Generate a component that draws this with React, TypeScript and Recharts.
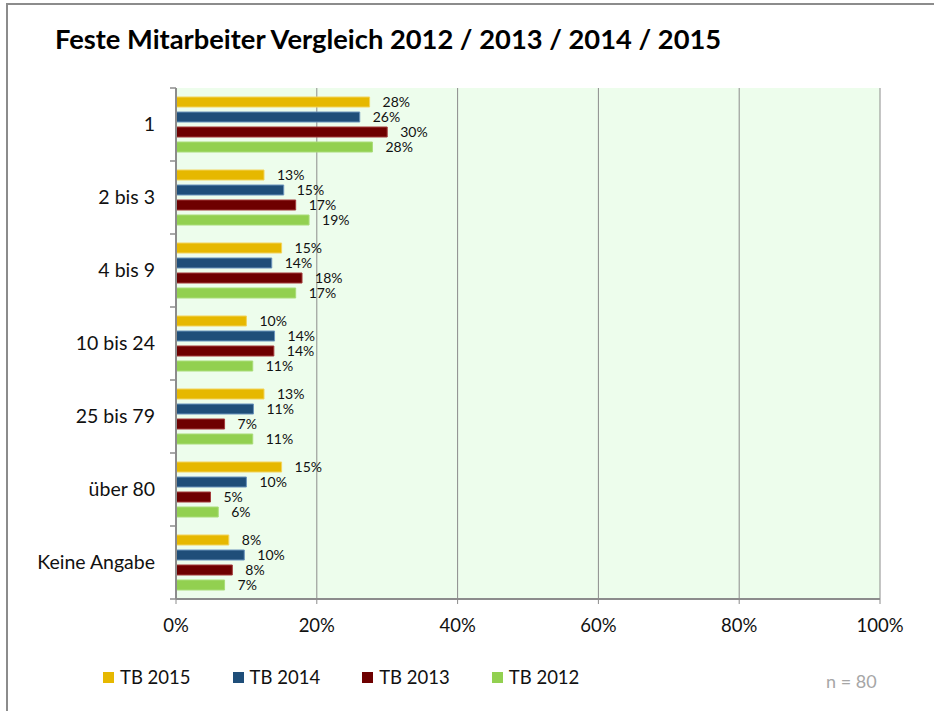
import { BarChart, Bar, XAxis, YAxis, CartesianGrid, Legend, LabelList } from 'recharts';

const categories = ['1', '2 bis 3', '4 bis 9', '10 bis 24', '25 bis 79', 'über 80', 'Keine Angabe'];

// Anteile in Prozent (Labels sind gerundet)
const tb2015 = [27.5, 12.5, 15, 10, 12.5, 15, 7.5];
const tb2014 = [26.1, 15.3, 13.6, 14.0, 11.0, 10.0, 9.7];
const tb2013 = [30.0, 17.0, 17.9, 13.9, 6.9, 4.9, 8.0];
const tb2012 = [27.9, 18.9, 17.0, 10.9, 10.9, 6.0, 6.9];

const xTicks = [0, 20, 40, 60, 80, 100];

const series = [
  { key: 'tb2015', label: 'TB 2015', values: tb2015 },
  { key: 'tb2014', label: 'TB 2014', values: tb2014 },
  { key: 'tb2013', label: 'TB 2013', values: tb2013 },
  { key: 'tb2012', label: 'TB 2012', values: tb2012 },
];

const colors: Record<string, { fill: string; edge: string }> = {
  tb2015: { fill: '#E6B800', edge: '#F3D35C' },
  tb2014: { fill: '#1F4E79', edge: '#6A93BC' },
  tb2013: { fill: '#6E0000', edge: '#A33A3A' },
  tb2012: { fill: '#92D050', edge: '#A9DC78' },
};

const rows = categories.map((cat, i) => {
  const row: Record<string, string | number> = { cat };
  series.forEach((s) => {
    row[s.key] = s.values[i];
  });
  return row;
});

const GRAY = '#8c8c8c';

// Kategorie-Label plus Teilstrich an der Bandgrenze (Excel-Stil)
function CategoryTick(props: any) {
  const { x, y, payload, index, visibleTicksCount } = props;
  const half = payload?.offset ?? 0;
  const axisX = x + 21;
  return (
    <g>
      <text x={x} y={y} dy="0.355em" textAnchor="end" fill="#111" fontSize={19.5}>
        {payload.value}
      </text>
      <line x1={axisX - 6} x2={axisX} y1={y - half} y2={y - half} stroke={GRAY} strokeWidth={1.5} />
      {index === visibleTicksCount - 1 && (
        <line x1={axisX - 6} x2={axisX} y1={y + half} y2={y + half} stroke={GRAY} strokeWidth={1.5} />
      )}
    </g>
  );
}

// Legende in der Reihenfolge der Serien (Recharts dreht sie im vertikalen Layout um)
function LegendContent() {
  return (
    <div style={{ display: 'flex', alignItems: 'center' }}>
      {series.map((s) => (
        <div key={s.key} style={{ width: 129.6, display: 'flex', alignItems: 'center', height: 22 }}>
          <span
            style={{
              width: 11,
              height: 11,
              background: colors[s.key].fill,
              marginRight: 6,
              display: 'inline-block',
            }}
          />
          <span style={{ fontSize: 18.5, color: '#111', lineHeight: '22px' }}>{s.label}</span>
        </div>
      ))}
    </div>
  );
}

export default function App() {
  return (
    <div
      style={{
        position: 'absolute',
        left: 0,
        top: 0,
        width: 934,
        height: 711,
        overflow: 'hidden',
        background: '#fff',
        fontFamily: 'Lato, sans-serif',
      }}
    >
      <div
        style={{
          position: 'absolute',
          left: 6,
          top: 3,
          width: 1000,
          height: 1000,
          border: `2px solid ${GRAY}`,
        }}
      />
      <BarChart
        width={934}
        height={711}
        layout="vertical"
        data={rows}
        margin={{ top: 88, right: 54, bottom: 82, left: 0 }}
        barSize={10}
        barGap={5}
      >
        <CartesianGrid horizontal={false} stroke={GRAY} fill="#EDFDEC" fillOpacity={1} />
        <XAxis
          type="number"
          domain={[0, 100]}
          ticks={xTicks}
          tickFormatter={(v: number) => `${v}%`}
          stroke={GRAY}
          axisLine={{ stroke: GRAY, strokeWidth: 2 }}
          tickLine={{ stroke: GRAY }}
          tick={{ fill: '#111', fontSize: 18.5 }}
          tickSize={5}
          tickMargin={15}
          height={30}
        />
        <YAxis
          type="category"
          dataKey="cat"
          width={176}
          axisLine={{ stroke: GRAY, strokeWidth: 2 }}
          tickLine={false}
          tickSize={5}
          tickMargin={16}
          tick={<CategoryTick />}
          interval={0}
        />
        <Legend
          layout="horizontal"
          verticalAlign="middle"
          align="center"
          content={<LegendContent />}
          wrapperStyle={{ left: 103, top: 666, width: 560, height: 22 }}
        />
        {series.map((s) => (
          <Bar
            key={s.key}
            dataKey={s.key}
            name={s.label}
            fill={colors[s.key].fill}
            stroke={colors[s.key].edge}
            strokeWidth={1}
            isAnimationActive={false}
          >
            <LabelList
              dataKey={s.key}
              position="right"
              offset={13}
              fill="#111"
              fontSize={14}
              formatter={(v: any) => `${Math.round(Number(v))}%`}
            />
          </Bar>
        ))}
      </BarChart>
      <svg
        width={934}
        height={711}
        style={{ position: 'absolute', left: 0, top: 0, pointerEvents: 'none' }}
      >
        <text x={55} y={49} fontSize={27.3} fontWeight={700} fill="#000">
          Feste Mitarbeiter Vergleich 2012 / 2013 / 2014 / 2015
        </text>
        <text x={826} y={688} fontSize={18} fill="#A6A6A6">
          n = 80
        </text>
      </svg>
    </div>
  );
}
